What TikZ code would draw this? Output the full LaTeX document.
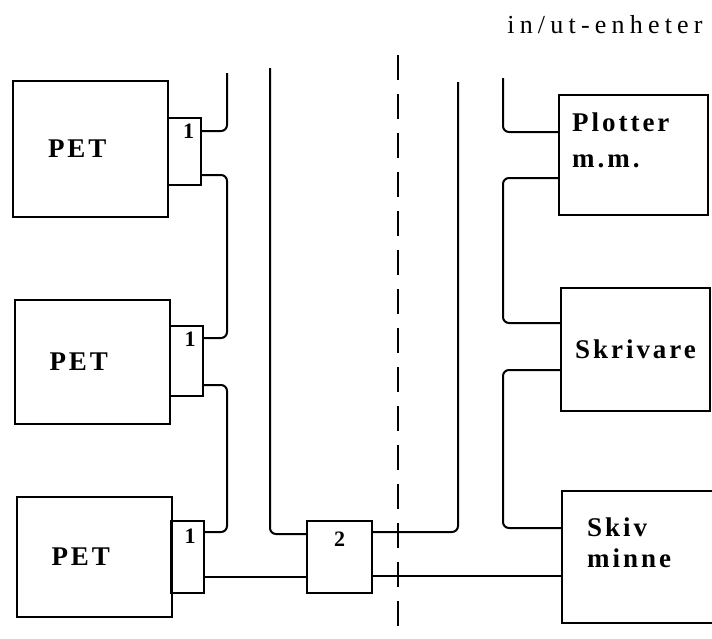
\documentclass[tikz,border=0pt]{standalone}
\usepackage{fontspec}
\setmainfont{Liberation Serif}
\newfontfamily\spacedfont[LetterSpace=11]{Liberation Serif}
\newfontfamily\widefont[LetterSpace=20]{Liberation Serif}
\usetikzlibrary{positioning}

\begin{document}
\begin{tikzpicture}[
      x=1pt, y=-1pt,
      wire/.style   = {line width=2pt, rounded corners=6pt},
      unit/.style   = {draw, line width=2pt, minimum width=155pt, minimum height=124pt,
                       inner sep=0pt, text width=85pt, align=left,
                       font=\spacedfont\bfseries\fontsize{27}{31}\selectfont},
      port/.style   = {draw, line width=2pt, minimum width=33pt, minimum height=70pt, inner sep=0pt},
      num/.style    = {inner sep=0pt, font=\bfseries\fontsize{22}{24}\selectfont},
      lbl/.style    = {inner sep=0pt, align=left, font=\spacedfont\bfseries\fontsize{27}{31}\selectfont},
      divide/.style = {line width=2pt, dash pattern=on 25pt off 14pt},
    ]
    \useasboundingbox (0,0) rectangle (712,638);

    % datorer med anpassning 1
    \node[unit, minimum height=136pt] (pet1) at (90.5,149) {PET};
    \node[unit, minimum height=124pt] (pet2) at (92,362)   {PET};
    \node[unit, minimum height=120pt] (pet3) at (94,557)   {PET};
    \node[port, minimum height=67pt] (p1) at (184.5,151.5) {};
    \node[port, minimum height=70pt] (p2) at (186,361)     {};
    \node[port, minimum height=72pt] (p3) at (187,557)     {};
    \node[num] (n1) at ([xshift=4pt,yshift=-14pt]p1.north) {1};
    \node[num] (n2) at ([xshift=4pt,yshift=-14pt]p2.north) {1};
    \node[num] (n3) at ([xshift=3pt,yshift=-16pt]p3.north) {1};

    % anpassning 2
    \node[port, minimum width=65pt, minimum height=72pt] (mux) at (339.5,557) {};
    \node[num] (n4) at ([yshift=-19pt]mux.north) {2};

    % in/ut-enheter
    \node[font=\widefont\fontsize{26}{30}\selectfont, inner sep=0pt] (io) at (605,25) {in/ut-enheter};
    \node[unit, minimum width=149pt, minimum height=120pt] (plot) at (633.5,155) {};
    \node[unit, minimum width=149pt, minimum height=123pt, text width=130pt, align=center] (skr) at (635.5,349.5) {Skrivare};
    \node[unit, minimum width=155pt, minimum height=132pt] (skiv) at (639.5,557) {};
    \node[lbl, anchor=west] (plottxt) at ([xshift=14pt,yshift=15pt]plot.west) {Plotter\\[5pt]m.m.};
    \node[lbl, anchor=west] (skivtxt) at ([xshift=26pt,yshift=14pt]skiv.west) {Skiv\\minne};

    % anslutningspunkter
    \coordinate (p1a) at ([yshift=-14pt]p1.north east);
    \coordinate (p1b) at ([yshift=11pt]p1.south east);
    \coordinate (p2a) at ([yshift=-13pt]p2.north east);
    \coordinate (p2b) at ([yshift=12pt]p2.south east);
    \coordinate (p3a) at ([yshift=-12pt]p3.north east);
    \coordinate (p3b) at ([yshift=17pt]p3.south east);
    \coordinate (ma)  at ([yshift=-14pt]mux.north west);
    \coordinate (mc)  at ([yshift=-12pt]mux.north east);
    \coordinate (md)  at ([yshift=18pt]mux.south east);
    \coordinate (s1a) at ([yshift=-38pt]plot.north west);
    \coordinate (s1b) at ([yshift=38pt]plot.south west);
    \coordinate (s2a) at ([yshift=-36pt]skr.north west);
    \coordinate (s2b) at ([yshift=42pt]skr.south west);
    \coordinate (s3a) at ([yshift=-38pt]skiv.north west);

    % fria ledningsändar
    \coordinate (lbus) at (227,73);
    \coordinate (mbus) at (270,68);
    \coordinate (hbus) at (458,82);
    \coordinate (rbus) at (503,78);
    \coordinate (d1)   at (398,55);
    \coordinate (d2)   at (398,640);

    % ledningar
    \draw[wire] (p1a) -| (lbus);
    \draw[wire] (p1b) -| (lbus |- p2a) -- (p2a);
    \draw[wire] (p2b) -| (lbus |- p3a) -- (p3a);
    \draw[wire] (p3b) -- (mux.west |- p3b);
    \draw[wire] (mbus) |- (ma);
    \draw[wire] (mc) -| (hbus);
    \draw[wire] (md) -- (skiv.west |- md);
    \draw[wire] (s1a) -| (rbus);
    \draw[wire] (s1b) -| (rbus |- s2a) -- (s2a);
    \draw[wire] (s2b) -| (rbus |- s3a) -- (s3a);

    % gräns
    \draw[divide] (d1) -- (d2);
  \end{tikzpicture}
\end{document}
